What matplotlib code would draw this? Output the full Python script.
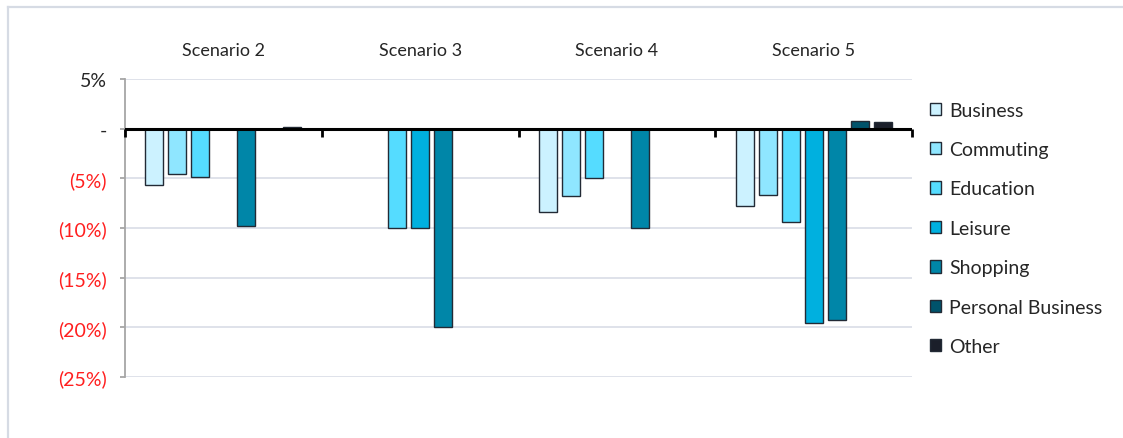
import matplotlib
matplotlib.use("Agg")
import matplotlib.pyplot as plt
from matplotlib.patches import Patch
from matplotlib.lines import Line2D
import numpy as np

plt.rcParams['font.family'] = ['Lato', 'DejaVu Sans']

# Change in trips by purpose (%), per scenario
scenarios = ["Scenario 2", "Scenario 3", "Scenario 4", "Scenario 5"]
purposes = ["Business", "Commuting", "Education", "Leisure",
            "Shopping", "Personal Business", "Other"]
business = [-5.7, 0.0, -8.4, -7.8]
commuting = [-4.6, 0.0, -6.8, -6.7]
education = [-4.9, -10.0, -5.0, -9.4]
leisure = [0.0, -10.0, 0.0, -19.6]
shopping = [-9.8, -20.0, -10.0, -19.3]
personal_business = [0.0, 0.0, 0.0, 0.8]
other = [0.2, 0.0, 0.0, 0.7]
series = [business, commuting, education, leisure,
          shopping, personal_business, other]

colors = ["#ccf2ff", "#8fe6ff", "#55dcff", "#00b0df",
          "#0086a8", "#00536b", "#1b1f2a"]
edge = "#222a35"

yticks = [5, 0, -5, -10, -15, -20, -25]

fig = plt.figure(figsize=(11.23, 4.39), dpi=100)
ax = fig.add_axes([125 / 1123, 1 - 378 / 439, (912 - 125) / 1123, (378 - 80) / 439])

# outer chart frame (top and left edges)
frame_col = "#d6dbe4"
fig.add_artist(Line2D([8 / 1123, 1.0], [1 - 8 / 439, 1 - 8 / 439],
                      color=frame_col, lw=1.6, transform=fig.transFigure))
fig.add_artist(Line2D([8 / 1123, 8 / 1123], [0.0, 1 - 8 / 439],
                      color=frame_col, lw=1.6, transform=fig.transFigure))

n = len(series)
pitch = 0.117
width = 0.092
x = np.arange(len(scenarios))
for j, (vals, col) in enumerate(zip(series, colors)):
    ax.bar(x + (j - (n - 1) / 2) * pitch, vals, width=width, color=col,
           edgecolor=edge, linewidth=1.0, zorder=3)

ax.set_xlim(-0.5, len(scenarios) - 0.5)
ax.set_ylim(min(yticks), max(yticks))

# gridlines
ax.set_yticks(yticks)
ax.yaxis.grid(True, color="#d9dde6", lw=1.2, zorder=0)
ax.set_axisbelow(True)

# zero line with category boundary ticks
ax.axhline(0, color="black", lw=2.2, zorder=4)
bounds = np.arange(len(scenarios) + 1) - 0.5
ax.plot(bounds, np.zeros_like(bounds), ls="none", marker=3, markersize=6,
        markeredgewidth=2, color="black", zorder=4, clip_on=False)

for s in ["top", "right", "bottom"]:
    ax.spines[s].set_visible(False)
ax.spines["left"].set_color("#a6a6a6")
ax.spines["left"].set_linewidth(1.3)


def fmt(v):
    if v > 0:
        return f"{v:.0f}%"
    if v == 0:
        return "-"
    return f"({-v:.0f}%)"


ax.set_yticklabels([fmt(v) for v in yticks], fontsize=14)
for lab, v in zip(ax.get_yticklabels(), yticks):
    lab.set_color("#ff1f1f" if v < 0 else "#262626")
ax.tick_params(axis="y", length=3.6, color="#a6a6a6", width=1.3, pad=9.5)

# scenario labels along the top
ax.set_xticks(x)
ax.set_xticklabels(scenarios, fontsize=13, color="#262626")
ax.xaxis.tick_top()
ax.tick_params(axis="x", length=0, pad=15)

handles = [Patch(facecolor=c, edgecolor=edge, linewidth=1.0, label=p)
           for c, p in zip(colors, purposes)]
fig.legend(handles=handles, loc="upper left",
           bbox_to_anchor=(922 / 1123, 1 - 95 / 439), frameon=False,
           fontsize=14, handlelength=0.6, handleheight=0.6,
           handletextpad=0.4, labelspacing=1.15, borderaxespad=0,
           labelcolor="#262626")

fig.savefig("out.png", dpi=100, facecolor="white")
